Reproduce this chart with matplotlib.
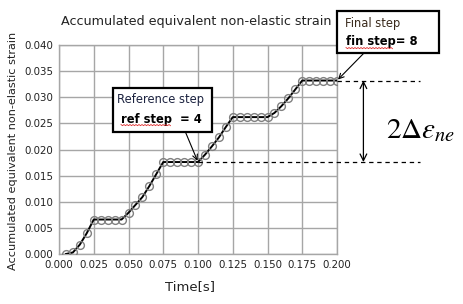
import numpy as np
import matplotlib
matplotlib.use("Agg")
import matplotlib.pyplot as plt
from matplotlib.patches import Rectangle

plt.rcParams['mathtext.fontset'] = 'stix'

# =========================
# DATA
# =========================

time_s = [0.005, 0.010, 0.015, 0.020, 0.025, 0.030, 0.035, 0.040, 0.045, 0.050,
          0.055, 0.060, 0.065, 0.070, 0.075, 0.080, 0.085, 0.090, 0.095, 0.100,
          0.105, 0.110, 0.115, 0.120, 0.125, 0.130, 0.135, 0.140, 0.145, 0.150,
          0.155, 0.160, 0.165, 0.170, 0.175, 0.180, 0.185, 0.190, 0.195, 0.200]

strain = [0.0000, 0.0003, 0.0018, 0.0040, 0.0066, 0.0066, 0.0066, 0.0066, 0.0066, 0.0079,
          0.0094, 0.0109, 0.0130, 0.0153, 0.0176, 0.0176, 0.0176, 0.0176, 0.0176, 0.0176,
          0.0190, 0.0206, 0.0223, 0.0243, 0.0262, 0.0262, 0.0262, 0.0262, 0.0262, 0.0262,
          0.0270, 0.0283, 0.0298, 0.0315, 0.0332, 0.0332, 0.0332, 0.0332, 0.0332, 0.0332]

x_ticks = [0.000, 0.025, 0.050, 0.075, 0.100, 0.125, 0.150, 0.175, 0.200]
y_ticks = [0.000, 0.005, 0.010, 0.015, 0.020, 0.025, 0.030, 0.035, 0.040]

ref_step = 4
fin_step = 8
ref_time, ref_val = 0.100, 0.0176
fin_time, fin_val = 0.200, 0.0332

# =========================
# PLOT
# =========================

W, H = 464, 304
fig = plt.figure(figsize=(W / 100, H / 100), dpi=100)
fig.patch.set_facecolor('white')

def fx(px):
    return px / W

def fy(py):
    return 1 - py / H

ax = fig.add_axes([fx(59), fy(254), fx(337) - fx(59), fy(45) - fy(254)])

ax.plot(time_s, strain, color='black', lw=1.4, zorder=3)
ax.plot(time_s, strain, ls='none', marker='o', ms=5.6, mfc='none',
        mec='#808080', mew=1.0, zorder=4)

ax.set_xlim(0, 0.2)
ax.set_ylim(0, 0.04)
ax.set_xticks(x_ticks)
ax.set_yticks(y_ticks)
ax.set_xticklabels([f"{v:.3f}" for v in x_ticks])
ax.set_yticklabels([f"{v:.3f}" for v in y_ticks])
ax.tick_params(length=0, labelsize=7.4, pad=4, colors='#222222')
for lab in ax.get_xticklabels() + ax.get_yticklabels():
    lab.set_fontfamily(['Liberation Sans Narrow', 'DejaVu Sans'])
ax.grid(True, color='#a6a6a6', lw=1.0)
ax.set_axisbelow(True)
for sp in ax.spines.values():
    sp.set_color('#a6a6a6')
    sp.set_linewidth(1.0)

fig.text(fx(196), fy(22), "Accumulated equivalent non-elastic strain",
         ha='center', va='center', fontsize=9.2, color='#222222')
fig.text(fx(13), fy(151), "Accumulated equivalent non-elastic strain",
         ha='center', va='center', rotation=90, fontsize=8.1, color='#222222')
fig.text(fx(190), fy(287), "Time[s]", ha='center', va='center',
         fontsize=9.5, color='#222222')

# dashed reference lines
ax.plot([ref_time, 0.26], [ref_val, ref_val], ls=(0, (3.5, 3)), color='black',
        lw=0.9, clip_on=False, zorder=5)
ax.plot([fin_time, 0.26], [fin_val, fin_val], ls=(0, (3.5, 3)), color='black',
        lw=0.9, clip_on=False, zorder=5)

# double arrow between levels
ax.annotate("", xy=(0.219, ref_val), xytext=(0.219, fin_val),
            arrowprops=dict(arrowstyle='<->', lw=0.9, color='black',
                            shrinkA=0, shrinkB=0, mutation_scale=12),
            annotation_clip=False)
fig.text(fx(386), fy(130), r'$2\Delta\varepsilon_{ne}$', ha='left', va='center',
         fontsize=21, color='black')

# boxes
fig.add_artist(Rectangle((fx(113), fy(132)), fx(212) - fx(113), fy(88) - fy(132),
                         transform=fig.transFigure, fill=True, fc='white',
                         ec='black', lw=1.6, zorder=10))
fig.text(fx(117), fy(100), "Reference step", ha='left', va='center',
         fontsize=8.3, color='#1c2340', zorder=11)
fig.text(fx(121), fy(119), f"ref step  = {ref_step}", ha='left', va='center',
         fontsize=8.3, fontweight='bold', color='black', zorder=11)

fig.add_artist(Rectangle((fx(337), fy(53)), fx(439) - fx(337), fy(11) - fy(53),
                         transform=fig.transFigure, fill=True, fc='white',
                         ec='black', lw=1.6, zorder=10))
fig.text(fx(345), fy(24), "Final step", ha='left', va='center',
         fontsize=8.3, color='#3a2a1c', zorder=11)
fig.text(fx(346), fy(42), f"fin step= {fin_step}", ha='left', va='center',
         fontsize=8.3, fontweight='bold', color='black', zorder=11)

# spell-check squiggles
for x0, x1, yy in [(121, 171, 124.5), (346, 393, 47.5)]:
    xs = np.arange(x0, x1 + 1, 1.5)
    ys = yy + np.where(np.arange(len(xs)) % 2 == 0, 0, 1.2)
    fig.add_artist(plt.Line2D(fx(xs), fy(ys), transform=fig.transFigure,
                              color='#e03030', lw=0.6, zorder=12))

# pointer arrows
ax.annotate("", xy=(ref_time, ref_val), xytext=(fx(185), fy(131)),
            textcoords='figure fraction',
            arrowprops=dict(arrowstyle='->', lw=0.8, color='black',
                            shrinkA=0, shrinkB=1, mutation_scale=9),
            annotation_clip=False, zorder=12)
ax.annotate("", xy=(fin_time, fin_val), xytext=(fx(365), fy(52)),
            textcoords='figure fraction',
            arrowprops=dict(arrowstyle='->', lw=0.8, color='black',
                            shrinkA=0, shrinkB=1, mutation_scale=9),
            annotation_clip=False, zorder=12)

plt.savefig("out.png", dpi=100, facecolor='white')
